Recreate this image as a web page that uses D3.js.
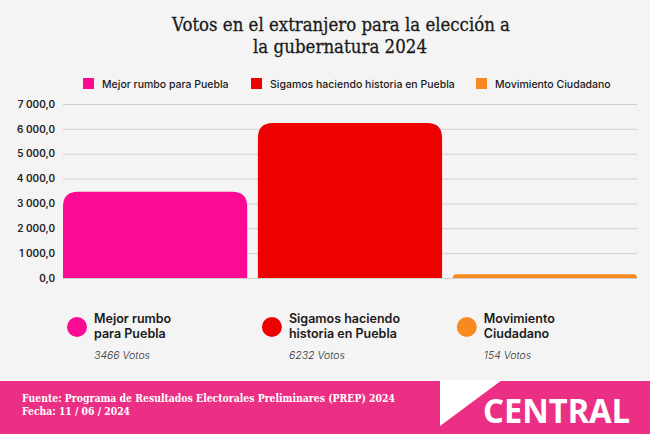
<!DOCTYPE html>
<html>
<head>
<meta charset="utf-8">
<script src="https://cdn.jsdelivr.net/npm/d3@7"></script>
<style>
  body { margin: 0; background: #f4f4f4; }
  svg { display: block; }
</style>
</head>
<body>
<div id="chart"></div>
<script>
// datos
const partidos = ["Mejor rumbo para Puebla", "Sigamos haciendo historia en Puebla", "Movimiento Ciudadano"];
const etiquetas = [["Mejor rumbo", "para Puebla"], ["Sigamos haciendo", "historia en Puebla"], ["Movimiento", "Ciudadano"]];
const votos = [3466, 6232, 154];
const colores = ["#fb0a94", "#ec0000", "#f7891f"];
const marcasY = [0, 1000, 2000, 3000, 4000, 5000, 6000, 7000];

const width = 650;
const height = 434;
const margin = { top: 104, right: 13, bottom: 156, left: 63 };

const svg = d3.select("#chart")
  .append("svg")
    .attr("width", width)
    .attr("height", height);

svg.append("rect")
  .attr("width", width)
  .attr("height", height)
  .attr("fill", "#f4f4f4");

// titulo
const titulo = svg.append("text")
  .attr("text-anchor", "middle")
  .attr("font-family", "'DejaVu Serif', serif")
  .attr("font-size", 18.5)
  .attr("fill", "#1a1a1a")
  .attr("stroke", "#1a1a1a")
  .attr("stroke-width", 0.3);
titulo.append("tspan").attr("x", 341).attr("y", 31)
  .attr("textLength", 338).attr("lengthAdjust", "spacingAndGlyphs")
  .text("Votos en el extranjero para la elección a");
titulo.append("tspan").attr("x", 340).attr("y", 53)
  .attr("textLength", 174).attr("lengthAdjust", "spacingAndGlyphs")
  .text("la gubernatura 2024");

// escalas
const x = d3.scaleBand()
  .domain(partidos)
  .range([margin.left, width - margin.right])
  .paddingInner(0.055)
  .paddingOuter(0);

const y = d3.scaleLinear()
  .domain([0, 7000])
  .range([height - margin.bottom, margin.top]);

const locale = d3.formatLocale({ decimal: ",", thousands: " ", grouping: [3], currency: ["", ""] });
const fmt = locale.format(",.1f");

// eje y con lineas de cuadricula
const ejeY = svg.append("g")
  .attr("transform", "translate(" + margin.left + ",0)")
  .call(d3.axisLeft(y)
    .tickValues(marcasY)
    .tickFormat(fmt)
    .tickSize(-(width - margin.left - margin.right))
    .tickPadding(8));

ejeY.select(".domain").remove();
ejeY.selectAll(".tick line")
  .attr("stroke", "#cfcfcf")
  .attr("stroke-width", 1);
ejeY.selectAll(".tick text")
  .attr("font-family", "Inter, 'Noto Sans', sans-serif")
  .attr("font-size", 10)
  .attr("font-weight", 600)
  .attr("fill", "#222");

// barras con esquinas superiores redondeadas
function barraRedondeada(x0, y0, w, h, r) {
  r = Math.min(r, h, w / 2);
  return "M" + x0 + "," + (y0 + h) +
    "V" + (y0 + r) +
    "Q" + x0 + "," + y0 + " " + (x0 + r) + "," + y0 +
    "H" + (x0 + w - r) +
    "Q" + (x0 + w) + "," + y0 + " " + (x0 + w) + "," + (y0 + r) +
    "V" + (y0 + h) + "Z";
}

svg.append("g")
  .selectAll("path")
  .data(partidos)
  .join("path")
    .attr("d", (d, i) => barraRedondeada(x(d), y(votos[i]), x.bandwidth(), y(0) - y(votos[i]), 15))
    .attr("fill", (d, i) => colores[i]);

// leyenda superior
const leyendaX = [83, 251, 476];
const leyenda = svg.append("g")
  .selectAll("g")
  .data(partidos)
  .join("g")
    .attr("transform", (d, i) => "translate(" + leyendaX[i] + ",78)");

leyenda.append("rect")
  .attr("width", 11)
  .attr("height", 11)
  .attr("fill", (d, i) => colores[i]);

leyenda.append("text")
  .attr("x", 19)
  .attr("y", 9.5)
  .attr("font-family", "Inter, 'Noto Sans', sans-serif")
  .attr("font-size", 10.5)
  .attr("font-weight", 500)
  .attr("fill", "#1a1a1a")
  .text(d => d);

// etiquetas inferiores
const abajo = svg.append("g")
  .selectAll("g")
  .data(partidos)
  .join("g")
    .attr("transform", d => "translate(" + (x(d) + 14) + ",0)");

abajo.append("circle")
  .attr("cx", 0)
  .attr("cy", 327)
  .attr("r", 10)
  .attr("fill", (d, i) => colores[i]);

abajo.append("text")
  .attr("font-family", "Inter, 'Noto Sans', sans-serif")
  .attr("font-size", 12.5)
  .attr("font-weight", 600)
  .attr("fill", "#1a1a1a")
  .selectAll("tspan")
  .data((d, i) => etiquetas[i])
  .join("tspan")
    .attr("x", 17)
    .attr("y", (d, j) => 323 + j * 15)
    .text(d => d);

abajo.append("text")
  .attr("x", 17)
  .attr("y", 359)
  .attr("font-family", "Inter, 'Noto Sans', sans-serif")
  .attr("font-size", 10.5)
  .attr("font-style", "italic")
  .attr("font-weight", 300)
  .attr("fill", "#333")
  .text((d, i) => votos[i] + " Votos");

// pie de pagina
svg.append("rect")
  .attr("x", 0)
  .attr("y", 381)
  .attr("width", width)
  .attr("height", height - 381)
  .attr("fill", "#ea2f84");

svg.append("path")
  .attr("d", "M440,380 H502 L440,426 Z")
  .attr("fill", "#ffffff");

const fuente = svg.append("text")
  .attr("font-family", "'DejaVu Serif', serif")
  .attr("font-size", 10.5)
  .attr("font-weight", 700)
  .attr("fill", "#ffffff");
fuente.append("tspan").attr("x", 22).attr("y", 402)
  .attr("textLength", 373).attr("lengthAdjust", "spacingAndGlyphs")
  .text("Fuente: Programa de Resultados Electorales Preliminares (PREP) 2024");
fuente.append("tspan").attr("x", 22).attr("y", 415)
  .attr("textLength", 108).attr("lengthAdjust", "spacingAndGlyphs")
  .text("Fecha: 11 / 06 / 2024");

svg.append("text")
  .attr("x", 483)
  .attr("y", 423)
  .attr("textLength", 147)
  .attr("lengthAdjust", "spacingAndGlyphs")
  .attr("font-family", "'Noto Sans', sans-serif")
  .attr("font-size", 34)
  .attr("font-weight", 700)
  .attr("fill", "#ffffff")
  .text("CENTRAL");
</script>
</body>
</html>
